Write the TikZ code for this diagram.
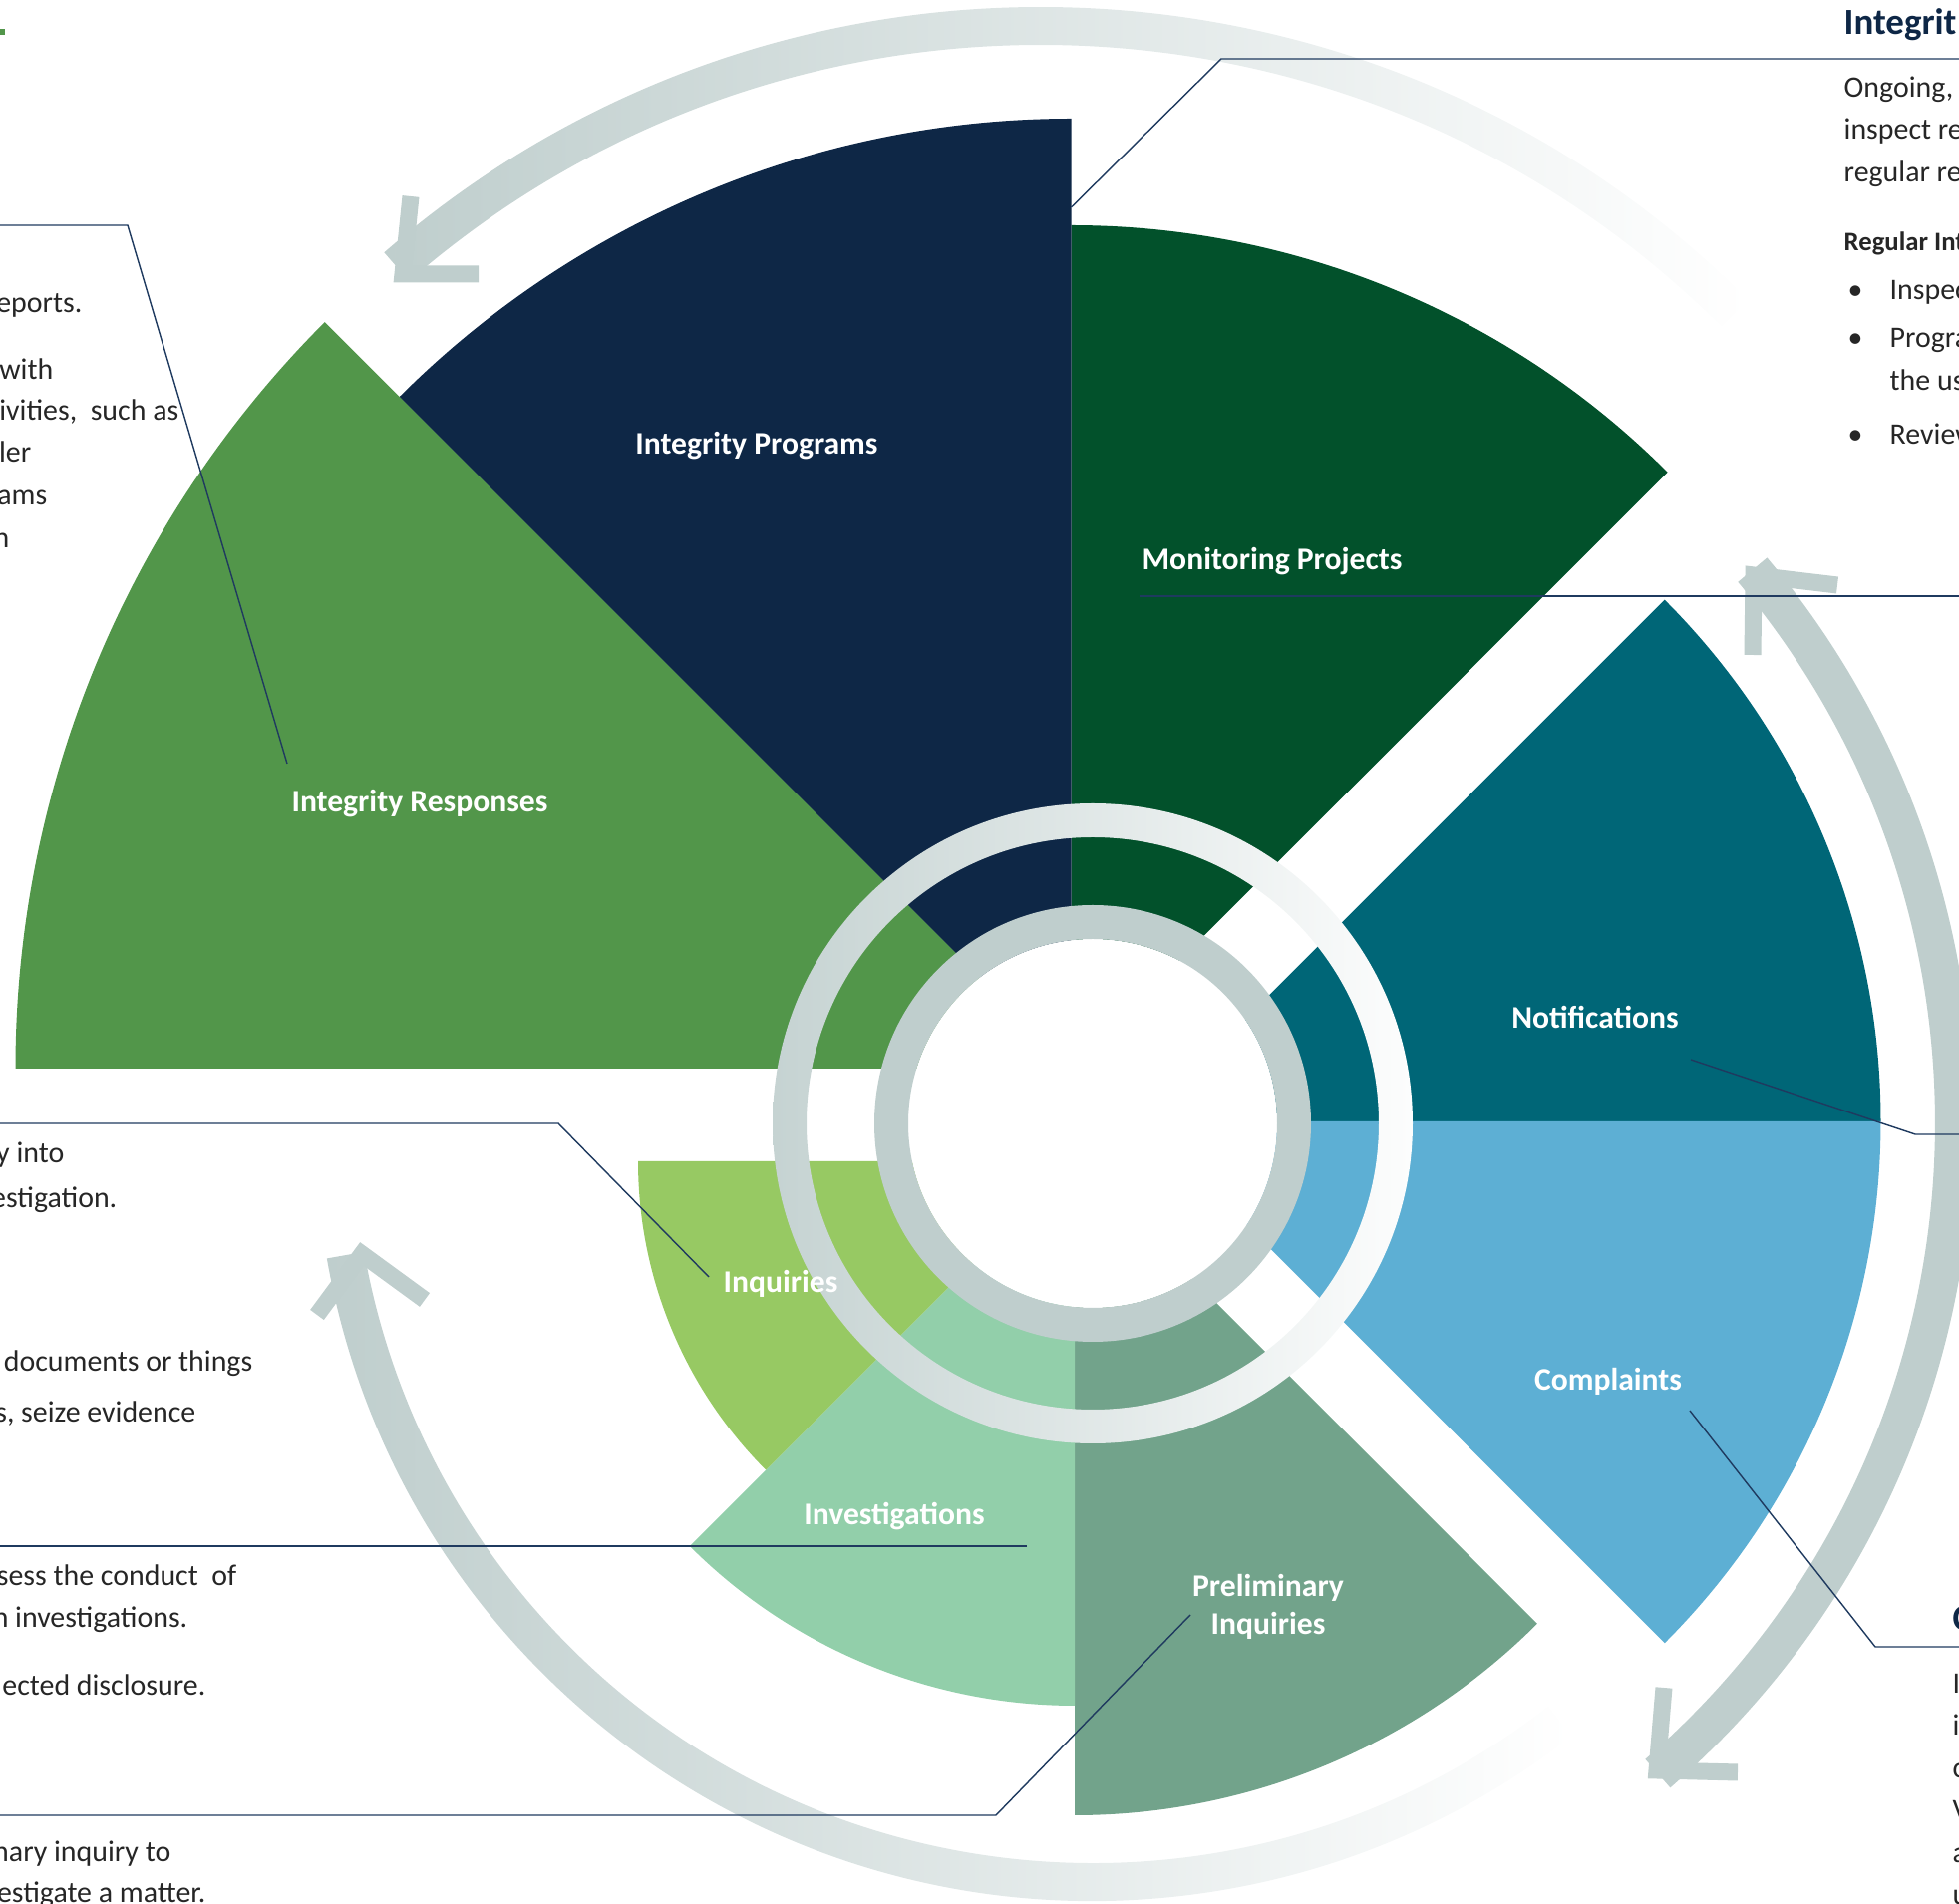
\documentclass[tikz,border=0pt]{standalone}
\usepackage{fontspec}
\setmainfont{Carlito}

\definecolor{respgreen}{HTML}{52964A}
\definecolor{prognavy}{HTML}{0E2746}
\definecolor{mongreen}{HTML}{02512B}
\definecolor{notiteal}{HTML}{006677}
\definecolor{compblue}{HTML}{5DAFD4}
\definecolor{prelgreen}{HTML}{72A38B}
\definecolor{invmint}{HTML}{92CFAA}
\definecolor{inqlime}{HTML}{97C963}
\definecolor{ringgray}{HTML}{BFCECD}
\definecolor{leadnavy}{HTML}{1F3A5F}
\definecolor{bodygray}{HTML}{262626}

\begin{document}
\begin{tikzpicture}[x=0.01cm, y=0.01cm,
  wedgelabel/.style={text=white, font=\bfseries\fontsize{9}{10.8}\selectfont, align=center, inner sep=0pt},
  bodytext/.style={text=bodygray, font=\fontsize{8.5}{10}\selectfont, inner sep=0pt},
  headtext/.style={text=prognavy, font=\bfseries\fontsize{10.5}{12}\selectfont, inner sep=0pt},
  leader/.style={draw=leadnavy, line width=0.4pt},
  arrowarm/.style={draw=ringgray, line width=0.17cm, line join=miter}]
\useasboundingbox (0,0) rectangle (1965,-1910);

\coordinate (top) at (1074.5,-1072);
\coordinate (right) at (1146.5,-1125);
\coordinate (bottom) at (1078,-1165);
\coordinate (hub) at (1096,-1127);
\coordinate (arcone) at (1044,-1011);

% wedges
\foreach \apex/\from/\to/\r/\col in {top/45/90/846/mongreen, top/90/135/953/prognavy,
    top/135/180/1059/respgreen, right/0/45/740/notiteal, right/-45/0/740/compblue,
    bottom/-90/-45/656/prelgreen, bottom/-135/-90/546/invmint, bottom/180/225/438/inqlime}
  \fill[\col] (\apex) -- ++(\from:\r) arc[start angle=\from, end angle=\to, radius=\r] -- cycle;

% rings
\fill[white] (hub) circle (185);
\fill[ringgray, even odd rule] (hub) circle (219) (hub) circle (185);
\shade[left color=ringgray!90!white, right color=white!96!ringgray, even odd rule]
  (hub) circle (321) (hub) circle (287);

% cycle arrows
\shade[left color=ringgray, right color=white]
  ([shift={(45:1004)}]arcone) arc[start angle=45, end angle=131, radius=1004]
  -- ([shift={(131:966)}]arcone) arc[start angle=131, end angle=45, radius=966] -- cycle;
\draw[arrowarm] (412,-197) -- (404,-275) -- (480,-275);

\draw[ringgray, line width=0.38cm] ([shift={(-49:864)}]hub) arc[start angle=-49, end angle=40, radius=864];
\draw[arrowarm] (1758,-657) -- (1759,-577) -- (1843,-587);
\draw[arrowarm] (1669,-1693) -- (1662,-1776) -- (1743,-1778);

\shade[left color=ringgray, middle color=ringgray!85!white, right color=white]
  ([shift={(190:780)}]hub) arc[start angle=190, end angle=308, radius=780]
  -- ([shift={(308:742)}]hub) arc[start angle=308, end angle=190, radius=742] -- cycle;
\draw[arrowarm] (318,-1319) -- (363,-1258) -- (426,-1304);

% labels
\node[wedgelabel] (resp) at (421,-806) {Integrity Responses};
\node[wedgelabel] (prog) at (759,-447) {Integrity Programs};
\node[wedgelabel] (mon) at (1276,-563) {Monitoring Projects};
\node[wedgelabel] (noti) at (1600,-1020) {Notifications};
\node[wedgelabel] (comp) at (1613,-1386) {Complaints};
\node[wedgelabel] (inq) at (783,-1288) {Inquiries};
\node[wedgelabel] (inv) at (897,-1521) {Investigations};
\node[wedgelabel] (pre) at (1272,-1612) {Preliminary\\Inquiries};

% leaders
\coordinate (resp-a) at (288,-766);   \coordinate (resp-b) at (128,-226);  \coordinate (resp-c) at (0,-226);
\coordinate (prog-a) at (1074.5,-208); \coordinate (prog-b) at (1225,-59); \coordinate (prog-c) at (1965,-59);
\coordinate (mon-a) at (1143,-598);   \coordinate (mon-c) at (1965,-598);
\coordinate (noti-a) at (1696,-1063); \coordinate (noti-b) at (1921,-1138); \coordinate (noti-c) at (1965,-1138);
\coordinate (comp-a) at (1695,-1415); \coordinate (comp-b) at (1881,-1652); \coordinate (comp-c) at (1965,-1652);
\coordinate (inq-a) at (711,-1281);   \coordinate (inq-b) at (560,-1127);  \coordinate (inq-c) at (0,-1127);
\coordinate (inv-a) at (1030,-1551);  \coordinate (inv-c) at (0,-1551);
\coordinate (pre-a) at (1194,-1620);  \coordinate (pre-b) at (999,-1821);  \coordinate (pre-c) at (0,-1821);
\draw[leader] (resp-a) -- (resp-b) -- (resp-c);
\draw[leader] (prog-a) -- (prog-b) -- (prog-c);
\draw[leader] (mon-a) -- (mon-c);
\draw[leader] (noti-a) -- (noti-b) -- (noti-c);
\draw[leader] (comp-a) -- (comp-b) -- (comp-c);
\draw[leader] (inq-a) -- (inq-b) -- (inq-c);
\draw[leader] (inv-a) -- (inv-c);
\draw[leader] (pre-a) -- (pre-b) -- (pre-c);

% text cut by the left edge
\fill[respgreen] (0,-29) rectangle (5,-35);
\node[bodytext, anchor=base east] (l1) at (83,-314) {eports.};
\node[bodytext, anchor=base east] (l2) at (54,-381) {with};
\node[bodytext, anchor=base east] (l3) at (180,-422) {ivities,\ \ such as};
\node[bodytext, anchor=base east] (l4) at (32,-464) {ler};
\node[bodytext, anchor=base east] (l5) at (48,-507) {ams};
\node[bodytext, anchor=base east] (l6) at (10,-550) {n};
\node[bodytext, anchor=base east] (l7) at (65,-1167) {y\ into};
\node[bodytext, anchor=base east] (l8) at (118,-1212) {estigation.};
\node[bodytext, anchor=base east] (l9) at (254,-1376) {documents\ or\ things};
\node[bodytext, anchor=base east] (l10) at (197,-1427) {s,\ seize\ evidence};
\node[bodytext, anchor=base east] (l11) at (238,-1591) {sess the conduct\ \ of};
\node[bodytext, anchor=base east] (l12) at (189,-1633) {n\ investigations.};
\node[bodytext, anchor=base east] (l13) at (207,-1701) {ected\ disclosure.};
\node[bodytext, anchor=base east] (l14) at (172,-1868) {nary\ inquiry\ to};
\node[bodytext, anchor=base east] (l15) at (207,-1909) {estigate\ a\ matter.};

% text cut by the right edge
\node[headtext, anchor=base west] (r0) at (1849,-35) {Integrit};
\node[bodytext, anchor=base west] (r1) at (1849,-98) {Ongoing,};
\node[bodytext, anchor=base west] (r2) at (1849,-140) {inspect re};
\node[bodytext, anchor=base west] (r3) at (1849,-183) {regular re};
\node[bodytext, anchor=base west, font=\bfseries\fontsize{7.6}{10}\selectfont] (r4) at (1849,-252) {Regular Int};
\foreach \n/\y in {5/301, 6/349, 8/446}
  \node[bodytext, anchor=base west] (dot\n) at (1853,-\y) {•};
\node[bodytext, anchor=base west] (r5) at (1895,-301) {Inspec};
\node[bodytext, anchor=base west] (r6) at (1895,-349) {Progra};
\node[bodytext, anchor=base west] (r7) at (1895,-392) {the us};
\node[bodytext, anchor=base west] (r8) at (1895,-446) {Review};
\node[headtext, anchor=base west] (b0) at (1958,-1636) {C};
\foreach \n/\y/\t in {1/1699/I, 2/1741/i, 3/1784/c, 4/1826/V, 5/1869/a, 6/1911/u}
  \node[bodytext, anchor=base west] (b\n) at (1958,-\y) {\t};
\end{tikzpicture}
\end{document}
